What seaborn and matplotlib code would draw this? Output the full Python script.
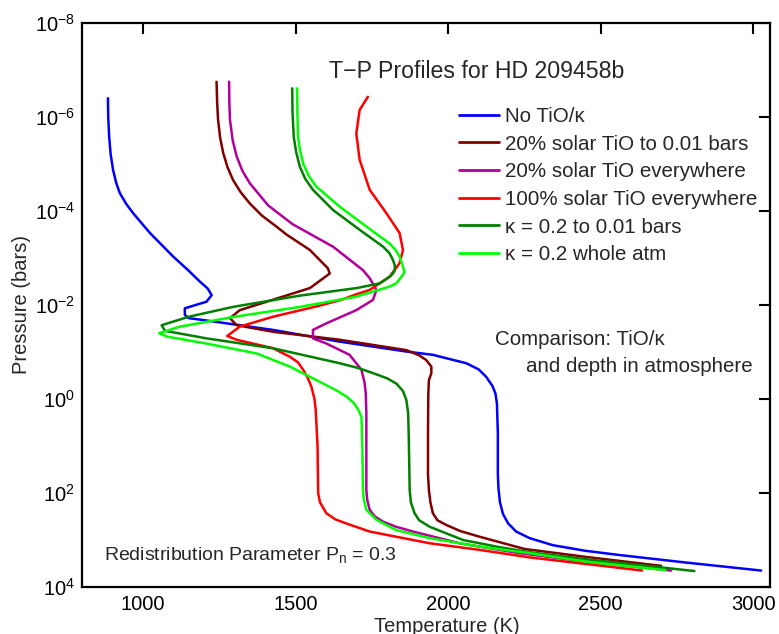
import numpy as np
import pandas as pd
import matplotlib
matplotlib.use("Agg")
import matplotlib.pyplot as plt
import seaborn as sns
from matplotlib.ticker import FixedLocator, FixedFormatter

# ---------------- data ----------------
labels = ["No TiO/\u03ba", "20% solar TiO to 0.01 bars", "20% solar TiO everywhere",
          "100% solar TiO everywhere", "\u03ba = 0.2 to 0.01 bars", "\u03ba = 0.2 whole atm"]
colors = ["#0000FF", "#800000", "#B2009A", "#FF0000", "#008000", "#00FF00"]

blue_T = [885, 886, 889, 894, 902, 912, 924, 945, 968, 1023, 1099, 1148, 1186, 1212, 1225, 1208,
          1137, 1137, 1150, 1197, 1426, 1645, 1863, 1950, 2060, 2100, 2125, 2145, 2155, 2160,
          2163, 2163, 2165, 2170, 2180, 2197, 2223, 2267, 2343, 2450, 2562, 2780, 3026]
blue_logP = [-6.40, -6.00, -5.58, -5.20, -4.87, -4.60, -4.38, -4.15, -3.95, -3.53, -3.03, -2.74,
             -2.50, -2.35, -2.21, -2.07, -1.93, -1.79, -1.72, -1.68, -1.47, -1.22, -1.01, -0.94,
             -0.76, -0.63, -0.47, -0.28, -0.12, 0.10, 0.73, 1.60, 1.90, 2.20, 2.45, 2.65, 2.82,
             2.96, 3.11, 3.23, 3.32, 3.48, 3.65]

dred_T = [1241, 1243, 1246, 1253, 1263, 1277, 1295, 1320, 1350, 1390, 1437, 1470, 1547, 1606,
          1612, 1547, 1415, 1317, 1285, 1307, 1426, 1645, 1863, 1905, 1928, 1945, 1945, 1937,
          1935, 1934, 1934, 1937, 1942, 1950, 1965, 1994, 2040, 2103, 2250, 2452, 2698]
dred_logP = [-6.75, -6.30, -5.94, -5.55, -5.23, -4.93, -4.66, -4.40, -4.16, -3.90, -3.67, -3.50,
             -3.17, -2.78, -2.67, -2.36, -2.09, -1.89, -1.72, -1.57, -1.43, -1.26, -1.04, -0.93,
             -0.83, -0.69, -0.55, -0.40, -0.10, 0.73, 1.60, 1.94, 2.20, 2.43, 2.58, 2.68, 2.81,
             2.93, 3.19, 3.36, 3.55]

mag_T = [1282, 1283, 1285, 1294, 1307, 1326, 1350, 1410, 1490, 1623, 1721, 1743, 1765, 1754,
         1699, 1601, 1557, 1557, 1601, 1677, 1716, 1726, 1730, 1732, 1732, 1735, 1743, 1760,
         1787, 1830, 1885, 2038, 2234, 2452, 2731]
mag_logP = [-6.75, -6.30, -5.94, -5.50, -5.16, -4.85, -4.59, -4.12, -3.72, -3.24, -2.74, -2.57,
            -2.32, -2.11, -1.89, -1.61, -1.47, -1.29, -1.18, -0.94, -0.62, -0.35, -0.12, 0.30,
            1.94, 2.15, 2.36, 2.50, 2.61, 2.72, 2.82, 3.07, 3.28, 3.46, 3.65]

red_T = [1737, 1710, 1699, 1710, 1743, 1798, 1841, 1852, 1841, 1808, 1743, 1700, 1650, 1575,
         1426, 1317, 1276, 1307, 1426, 1481, 1508, 1525, 1540, 1552, 1562, 1566, 1572, 1574,
         1580, 1601, 1630, 1667, 1743, 1940, 2103, 2267, 2452, 2636]
red_logP = [-6.43, -6.15, -5.65, -5.09, -4.45, -3.95, -3.53, -3.17, -2.89, -2.60, -2.32, -2.23,
            -2.11, -1.98, -1.75, -1.54, -1.34, -1.26, -1.08, -0.90, -0.78, -0.62, -0.45, -0.26,
            0.00, 0.23, 1.00, 2.00, 2.20, 2.43, 2.56, 2.65, 2.82, 3.07, 3.21, 3.37, 3.51, 3.65]

dgreen_T = [1489, 1490, 1494, 1502, 1514, 1532, 1557, 1623, 1710, 1787, 1808, 1819, 1825, 1825,
            1818, 1808, 1776, 1700, 1515, 1295, 1150, 1061, 1072, 1208, 1426, 1645, 1705, 1754,
            1800, 1830, 1852, 1863, 1869, 1871, 1874, 1878, 1890, 1905, 1940, 2049, 2158, 2267,
            2452, 2807]
dgreen_logP = [-6.61, -6.10, -5.58, -5.25, -4.94, -4.68, -4.45, -4.02, -3.60, -3.24, -3.10,
               -2.96, -2.85, -2.74, -2.66, -2.60, -2.46, -2.36, -2.20, -1.96, -1.75, -1.57,
               -1.45, -1.29, -1.08, -0.76, -0.66, -0.55, -0.44, -0.33, -0.17, 0.02, 0.30, 0.80,
               1.94, 2.20, 2.43, 2.58, 2.72, 3.00, 3.14, 3.26, 3.41, 3.66]

lgreen_T = [1505, 1506, 1508, 1515, 1525, 1543, 1568, 1645, 1732, 1808, 1828, 1841, 1852, 1857,
            1847, 1830, 1808, 1735, 1700, 1515, 1300, 1121, 1053, 1077, 1208, 1372, 1481, 1590,
            1635, 1667, 1690, 1705, 1716, 1719, 1721, 1724, 1732, 1765, 1830, 1940, 2103, 2267,
            2452, 2712]
lgreen_logP = [-6.61, -6.10, -5.58, -5.28, -5.01, -4.75, -4.52, -4.09, -3.67, -3.31, -3.17,
               -3.03, -2.82, -2.70, -2.60, -2.46, -2.39, -2.25, -2.18, -1.96, -1.75, -1.54,
               -1.40, -1.33, -1.18, -0.97, -0.69, -0.33, -0.18, -0.05, 0.08, 0.22, 0.38, 1.09,
               1.94, 2.15, 2.36, 2.57, 2.79, 2.96, 3.14, 3.28, 3.46, 3.64]

x_ticks = [1000, 1500, 2000, 2500, 3000]
y_tick_exps = [-8, -6, -4, -2, 0, 2, 4]

series_T = [blue_T, dred_T, mag_T, red_T, dgreen_T, lgreen_T]
series_logP = [blue_logP, dred_logP, mag_logP, red_logP, dgreen_logP, lgreen_logP]

frames = []
for lab, T, lp in zip(labels, series_T, series_logP):
    frames.append(pd.DataFrame({"T": T, "P": 10.0 ** np.array(lp), "profile": lab}))
df = pd.concat(frames, ignore_index=True)

# ---------------- style ----------------
sns.set_style("white")
plt.rcParams["font.family"] = ["Liberation Sans", "DejaVu Sans"]
plt.rcParams["mathtext.fontset"] = "custom"
plt.rcParams["mathtext.rm"] = "Liberation Sans"
plt.rcParams["mathtext.it"] = "Liberation Sans:italic"
plt.rcParams["mathtext.default"] = "regular"

W, H = 779, 634
AX_L, AX_R, AX_T, AX_B = 82, 770, 23, 587
fig = plt.figure(figsize=(W / 100, H / 100), dpi=100)
ax = fig.add_axes([AX_L / W, 1 - AX_B / H, (AX_R - AX_L) / W, (AX_B - AX_T) / H])


def ax_xy(px, py):
    return (px - AX_L) / (AX_R - AX_L), 1 - (py - AX_T) / (AX_B - AX_T)


for lab, col in zip(labels, colors):
    sub = df[df["profile"] == lab]
    sns.lineplot(data=sub, x="T", y="P", sort=False, estimator=None, color=col,
                 linewidth=1.8, label=lab, ax=ax)

ax.set_yscale("log")
ax.set_xlim(800, 3055)
ax.set_ylim(1e4, 1e-8)

ax.xaxis.set_major_locator(FixedLocator(x_ticks))
ax.set_xticklabels([str(t) for t in x_ticks])
ax.yaxis.set_major_locator(FixedLocator([10.0 ** e for e in y_tick_exps]))
ax.yaxis.set_major_formatter(FixedFormatter([r"$10^{%d}$" % e for e in y_tick_exps]))
ax.yaxis.set_minor_locator(FixedLocator([]))
ax.tick_params(axis="both", which="major", direction="in", length=8, width=1.5,
               labelsize=14.5, top=True, right=True, colors="black")
ax.tick_params(axis="x", pad=6)
ax.tick_params(axis="y", pad=5)
for s in ax.spines.values():
    s.set_linewidth(1.6)
    s.set_color("black")
    s.set_visible(True)

ax.set_xlabel("Temperature (K)", fontsize=14.5)
ax.set_ylabel("Pressure (bars)", fontsize=14.5)
ax.xaxis.set_label_coords(*ax_xy(447, 617))
ax.yaxis.set_label_coords(*ax_xy(31, 305))

ax.text(*ax_xy(477, 72), "T\u2212P Profiles for HD 209458b",
        transform=ax.transAxes, ha="center", va="center", fontsize=16.7)
ax.text(*ax_xy(495, 339), "Comparison: TiO/\u03ba",
        transform=ax.transAxes, ha="left", va="center", fontsize=14.8)
ax.text(*ax_xy(526, 367), "and depth in atmosphere",
        transform=ax.transAxes, ha="left", va="center", fontsize=14.8)
ax.text(*ax_xy(104, 555), r"Redistribution Parameter P$_{\mathrm{n}}$ = 0.3",
        transform=ax.transAxes, ha="left", va="center", fontsize=14)

leg = ax.legend(loc="upper left", bbox_to_anchor=(459 / W, 1 - 107 / H),
                bbox_transform=fig.transFigure, frameon=False, fontsize=14.8,
                handlelength=1.95, handletextpad=0.3, labelspacing=0.42,
                borderpad=0, borderaxespad=0)
for line in leg.get_lines():
    line.set_linewidth(2)

fig.savefig("out.png", dpi=100)
